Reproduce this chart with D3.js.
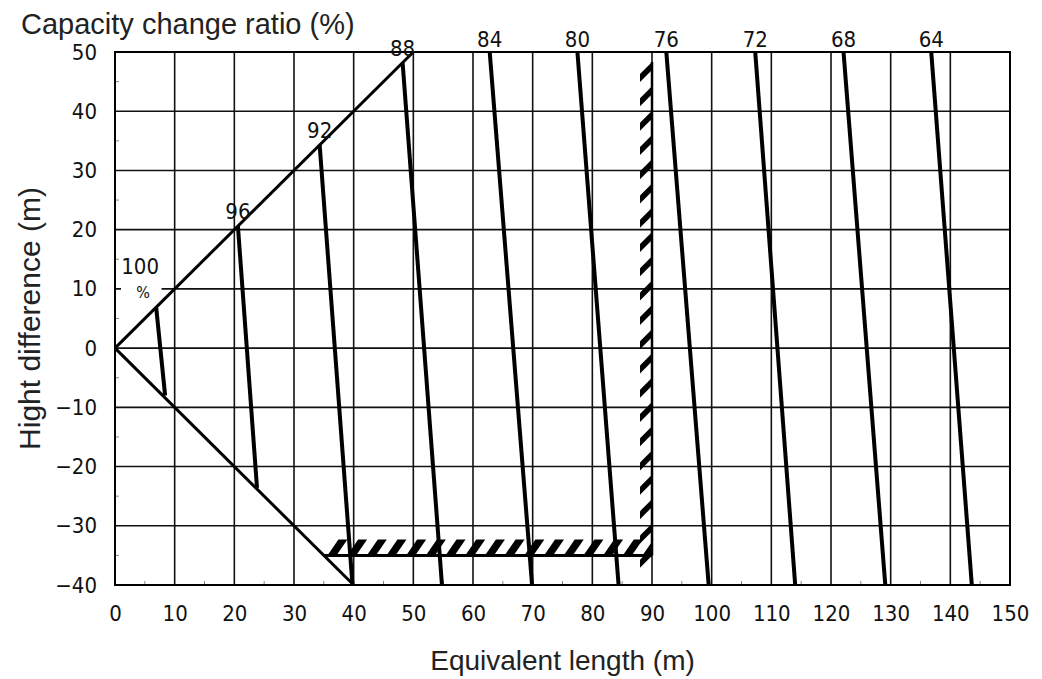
<!DOCTYPE html>
<html>
<head>
<meta charset="utf-8">
<script src="https://cdn.jsdelivr.net/npm/d3@7"></script>
<style>
  body { margin: 0; background: #fff; }
  svg { display: block; }
  .tick text { font-family: "DejaVu Sans Condensed", "DejaVu Sans", sans-serif; font-stretch: condensed; }
</style>
</head>
<body>
<div id="chart"></div>
<script>
  /**
   * DATA
   * */
  const xTicks = [0, 10, 20, 30, 40, 50, 60, 70, 80, 90, 100, 110, 120, 130, 140, 150];
  const yTicks = [50, 40, 30, 20, 10, 0, -10, -20, -30, -40];
  // capacity ratio labels and each line's end points [x top, y top, x bottom, y bottom]
  const ratios = ["100", "96", "92", "88", "84", "80", "76", "72", "68", "64"];
  const topX = [6.9, 20.6, 34.3, 48.2, 62.8, 77.5, 92.4, 107.3, 122.1, 136.8];
  const topY = [6.9, 20.6, 34.3, 48.2, 50, 50, 50, 50, 50, 50];
  const botX = [8.4, 23.8, 39.8, 54.8, 69.9, 84.4, 99.5, 114.0, 129.1, 143.6];
  const botY = [-8.0, -23.6, -40, -40, -40, -40, -40, -40, -40, -40];
  // envelope of the chart (upper and lower limit)
  const upperEdge = [[0, 0], [50, 50]];
  const lowerEdge = [[0, 0], [40, -40]];
  // hatched limits: horizontal at -35 m, vertical at 90 m
  const limitH = { y: -35, x0: 35, x1: 90 };
  const limitV = { x: 90, y0: -35, y1: 48.3 };

  /**
   * CONSTANTS
   * */
  const width = 1042, height = 679;
  const margin = { top: 52, right: 32, bottom: 94, left: 115 };

  const svg = d3.select("#chart")
    .append("svg")
    .attr("width", width)
    .attr("height", height);

  const xScale = d3.scaleLinear()
    .domain([0, 150])
    .range([margin.left, width - margin.right]);

  const yScale = d3.scaleLinear()
    .domain([-40, 50])
    .range([height - margin.bottom, margin.top]);

  const x0 = xScale(0), x1 = xScale(150), y0 = yScale(50), y1 = yScale(-40);

  // grid
  svg.append("g")
    .selectAll("line.vgrid")
    .data(xTicks)
    .join("line")
    .attr("class", "vgrid")
    .attr("x1", d => xScale(d)).attr("x2", d => xScale(d))
    .attr("y1", y0).attr("y2", y1)
    .attr("stroke", "#111").attr("stroke-width", 1.6);

  svg.append("g")
    .selectAll("line.hgrid")
    .data(yTicks)
    .join("line")
    .attr("class", "hgrid")
    .attr("x1", x0).attr("x2", x1)
    .attr("y1", d => yScale(d)).attr("y2", d => yScale(d))
    .attr("stroke", "#111").attr("stroke-width", 1.6);

  // white gap behind the "100 %" label
  svg.append("rect")
    .attr("x", x0 + 6).attr("y", yScale(10) - 3)
    .attr("width", xScale(7.8) - x0 - 6).attr("height", 6)
    .attr("fill", "#fff");

  // minor ticks (inside)
  svg.append("g")
    .selectAll("line")
    .data(d3.range(5, 150, 10))
    .join("line")
    .attr("x1", d => xScale(d)).attr("x2", d => xScale(d))
    .attr("y1", y1).attr("y2", y1 - 4)
    .attr("stroke", "#888").attr("stroke-width", 1);

  svg.append("g")
    .selectAll("line")
    .data(d3.range(-35, 50, 10))
    .join("line")
    .attr("x1", x0).attr("x2", x0 + 4)
    .attr("y1", d => yScale(d)).attr("y2", d => yScale(d))
    .attr("stroke", "#888").attr("stroke-width", 1);

  svg.append("rect")
    .attr("x", x0).attr("y", y0)
    .attr("width", x1 - x0).attr("height", y1 - y0)
    .attr("fill", "none").attr("stroke", "#000").attr("stroke-width", 2);

  // axes labels
  const xAxis = d3.axisBottom(xScale).tickValues(xTicks).tickSize(0).tickPadding(20);
  svg.append("g")
    .attr("transform", `translate(0, ${y1})`)
    .call(xAxis)
    .call(g => g.select(".domain").remove())
    .selectAll("text")
    .attr("font-size", 22)
    .attr("fill", "#111");

  const yAxis = d3.axisLeft(yScale).tickValues(yTicks).tickSize(0).tickPadding(18)
    .tickFormat(d => d < 0 ? "\u2212" + Math.abs(d) : d);
  svg.append("g")
    .attr("transform", `translate(${x0}, 0)`)
    .call(yAxis)
    .call(g => g.select(".domain").remove())
    .selectAll("text")
    .attr("font-size", 22)
    .attr("fill", "#111");

  // hatched limits
  const hatch = svg.append("g").attr("fill", "#000");
  const hTop = yScale(limitH.y) - 16, hBase = yScale(limitH.y);
  hatch.selectAll("path.hh")
    .data(d3.range(limitH.x0 + 0.6, limitH.x1 - 0.5, 3.3))
    .join("path")
    .attr("class", "hh")
    .attr("d", d => {
      const x = xScale(d);
      return `M${x},${hBase}L${x + 9},${hBase}L${Math.min(x + 20, xScale(limitH.x1))},${hTop}L${x + 11},${hTop}Z`;
    });
  const vLeft = xScale(limitV.x) - 12, vRight = xScale(limitV.x);
  hatch.selectAll("path.vh")
    .data(d3.range(limitV.y1, limitV.y0 + 1, -4.1))
    .join("path")
    .attr("class", "vh")
    .attr("d", d => {
      const y = yScale(d);
      return `M${vRight},${y}L${vRight},${y + 8}L${vLeft},${y + 20}L${vLeft},${y + 12}Z`;
    });
  svg.append("line")
    .attr("x1", xScale(limitH.x0)).attr("x2", xScale(limitH.x1))
    .attr("y1", hBase).attr("y2", hBase)
    .attr("stroke", "#000").attr("stroke-width", 3);
  svg.append("line")
    .attr("x1", vRight).attr("x2", vRight)
    .attr("y1", yScale(limitV.y0)).attr("y2", yScale(limitV.y1))
    .attr("stroke", "#000").attr("stroke-width", 2.5);

  // envelope
  const lineFunc = d3.line().x(d => xScale(d[0])).y(d => yScale(d[1]));
  svg.selectAll("path.edge")
    .data([upperEdge, lowerEdge])
    .join("path")
    .attr("class", "edge")
    .attr("d", lineFunc)
    .attr("fill", "none")
    .attr("stroke", "#000")
    .attr("stroke-width", 3);

  // capacity lines
  const capData = ratios.map((r, i) => ({ r, x1: topX[i], y1: topY[i], x2: botX[i], y2: botY[i] }));
  svg.selectAll("line.cap")
    .data(capData)
    .join("line")
    .attr("class", "cap")
    .attr("x1", d => xScale(d.x1)).attr("y1", d => yScale(d.y1))
    .attr("x2", d => xScale(d.x2)).attr("y2", d => yScale(d.y2))
    .attr("stroke", "#000").attr("stroke-width", 4);

  // ratio labels
  const labelFont = '"DejaVu Sans Condensed", "DejaVu Sans", sans-serif';
  svg.selectAll("text.rl")
    .data(capData)
    .join("text")
    .attr("class", "rl")
    .attr("x", d => d.r === "100" ? xScale(d.x1) - 16 : xScale(d.x1))
    .attr("y", d => d.y1 >= 50 ? y0 - 5 : (d.r === "100" ? yScale(d.y1) - 33 : yScale(d.y1) - 7))
    .attr("text-anchor", "middle")
    .attr("font-family", labelFont)
    .attr("font-stretch", "condensed")
    .attr("font-size", 22)
    .attr("fill", "#111")
    .text(d => d.r);
  svg.append("text")
    .attr("x", xScale(topX[0]) - 13)
    .attr("y", yScale(topY[0]) - 9)
    .attr("text-anchor", "middle")
    .attr("font-family", labelFont)
    .attr("font-stretch", "condensed")
    .attr("font-size", 16)
    .attr("fill", "#111")
    .text("%");

  // titles
  const titleFont = '"Liberation Sans", Arial, sans-serif';
  svg.append("text")
    .attr("x", 21).attr("y", 34)
    .attr("font-family", titleFont)
    .attr("font-size", 29)
    .attr("fill", "#222")
    .text("Capacity change ratio (%)");

  svg.append("text")
    .attr("x", (x0 + x1) / 2).attr("y", 670)
    .attr("text-anchor", "middle")
    .attr("font-family", titleFont)
    .attr("font-size", 28)
    .attr("fill", "#222")
    .text("Equivalent length (m)");

  svg.append("text")
    .attr("transform", `translate(40, ${(y0 + y1) / 2}) rotate(-90)`)
    .attr("text-anchor", "middle")
    .attr("font-family", titleFont)
    .attr("font-size", 30)
    .attr("fill", "#222")
    .text("Hight difference (m)");
</script>
</body>
</html>
